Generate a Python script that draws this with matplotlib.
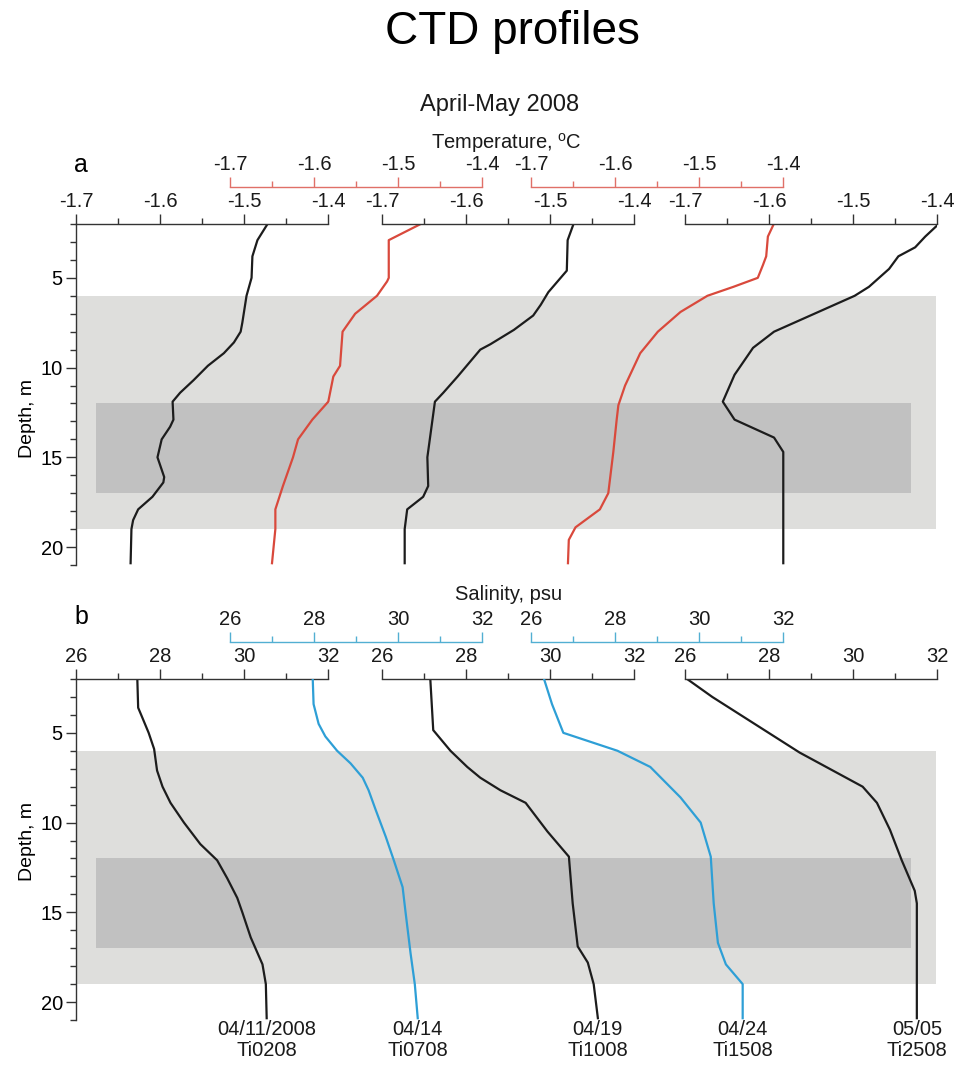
import matplotlib
matplotlib.use("Agg")
import matplotlib.pyplot as plt
import matplotlib.transforms as mtransforms
from matplotlib.ticker import FixedLocator, MultipleLocator, FormatStrFormatter

plt.rcParams['font.family'] = ['Liberation Sans', 'DejaVu Sans']
plt.rcParams['axes.unicode_minus'] = False
plt.rcParams['mathtext.fontset'] = 'custom'
plt.rcParams['mathtext.rm'] = 'Liberation Sans'

stations = ["Ti0208", "Ti0708", "Ti1008", "Ti1508", "Ti2508"]
dates = ["04/11/2008", "04/14", "04/19", "04/24", "05/05"]

temp_ticks = [-1.7, -1.6, -1.5, -1.4]
temp_minor = [-1.65, -1.55, -1.45]
sal_ticks = [26, 28, 30, 32]
sal_minor = [27, 29, 31]
depth_ticks = [5, 10, 15, 20]

# temperature profiles: depth (m) and temperature (deg C)
ti0208_t_z = [2.0, 2.9, 3.8, 5.0, 6.0, 7.5, 8.0, 8.6, 9.2, 9.9, 10.7, 11.4, 11.9,
              12.9, 13.3, 14.0, 15.0, 16.1, 16.4, 17.2, 17.9, 18.5, 19.0, 20.9]
ti0208_t = [-1.472, -1.484, -1.490, -1.491, -1.497, -1.502, -1.504, -1.512, -1.524,
            -1.543, -1.560, -1.576, -1.585, -1.584, -1.588, -1.598, -1.603, -1.595,
            -1.596, -1.609, -1.626, -1.632, -1.634, -1.635]

ti0708_t_z = [2.0, 2.9, 5.0, 5.2, 6.0, 7.0, 8.0, 9.9, 10.5, 11.9, 12.9, 14.0, 15.0,
              16.6, 17.9, 19.0, 20.9]
ti0708_t = [-1.473, -1.511, -1.511, -1.513, -1.525, -1.551, -1.566, -1.569, -1.577,
            -1.583, -1.602, -1.619, -1.625, -1.637, -1.646, -1.646, -1.650]

ti1008_t_z = [2.0, 2.9, 4.6, 5.8, 6.5, 7.1, 7.9, 8.7, 9.0, 10.5, 11.4, 11.9, 15.0,
              16.6, 17.2, 17.9, 19.0, 20.9]
ti1008_t = [-1.472, -1.479, -1.480, -1.502, -1.511, -1.520, -1.543, -1.571, -1.583,
            -1.610, -1.627, -1.637, -1.646, -1.645, -1.651, -1.670, -1.673, -1.673]

ti1508_t_z = [2.0, 2.7, 3.8, 4.3, 5.0, 5.5, 6.0, 6.9, 8.0, 9.2, 10.1, 11.0, 12.1,
              12.9, 14.7, 17.0, 17.9, 18.9, 19.6, 20.9]
ti1508_t = [-1.411, -1.418, -1.420, -1.424, -1.430, -1.459, -1.490, -1.522, -1.549,
            -1.570, -1.579, -1.588, -1.596, -1.598, -1.602, -1.608, -1.618, -1.647,
            -1.655, -1.656]

ti2508_t_z = [2.0, 2.7, 3.3, 3.8, 4.5, 5.5, 6.0, 8.0, 8.9, 10.4, 11.9, 12.9, 13.9,
              14.7, 16.6, 20.9]
ti2508_t = [-1.398, -1.414, -1.426, -1.446, -1.457, -1.481, -1.498, -1.594, -1.619,
            -1.641, -1.655, -1.641, -1.594, -1.583, -1.583, -1.583]

# salinity profiles: depth (m) and salinity (psu)
ti0208_s_z = [2.0, 3.6, 4.1, 5.0, 5.9, 7.1, 8.0, 8.9, 10.0, 11.2, 12.1, 13.1, 14.2,
              15.0, 16.4, 17.9, 19.0, 20.9]
ti0208_s = [27.46, 27.48, 27.57, 27.73, 27.86, 27.93, 28.06, 28.25, 28.57, 28.96,
            29.36, 29.60, 29.84, 29.96, 30.16, 30.44, 30.52, 30.54]

ti0708_s_z = [2.0, 3.4, 4.5, 5.2, 6.0, 6.7, 7.5, 8.2, 9.3, 10.8, 12.1, 13.6, 15.0,
              17.3, 19.0, 20.9]
ti0708_s = [27.97, 27.99, 28.11, 28.27, 28.55, 28.87, 29.16, 29.30, 29.47, 29.71,
            29.90, 30.11, 30.18, 30.30, 30.40, 30.47]

ti1008_s_z = [2.0, 4.85, 6.0, 6.9, 7.5, 8.2, 8.9, 10.5, 11.9, 14.5, 16.9, 17.8, 19.0, 20.9]
ti1008_s = [27.15, 27.22, 27.63, 28.03, 28.34, 28.82, 29.42, 29.94, 30.45, 30.54,
            30.66, 30.90, 31.04, 31.14]

ti1508_s_z = [2.0, 3.4, 5.0, 6.0, 6.9, 8.6, 10.0, 11.9, 14.5, 16.7, 17.9, 19.0, 20.9]
ti1508_s = [26.31, 26.50, 26.77, 28.06, 28.84, 29.56, 30.04, 30.28, 30.35, 30.45,
            30.64, 31.04, 31.04]

ti2508_s_z = [2.0, 3.0, 6.1, 8.0, 8.9, 10.4, 12.1, 13.8, 14.5, 20.9]
ti2508_s = [26.05, 26.65, 28.73, 30.23, 30.57, 30.88, 31.16, 31.47, 31.52, 31.52]

# layers shaded behind the profiles (depth range, m)
outer_layer = (6, 19)
inner_layer = (12, 17)

W, H = 960, 1067
LEFTS = [76, 230, 382, 531, 685]
AX_W = 252
LIGHT = "#dededc"
DARK = "#c1c1c1"
RED = "#d9493c"
RED_AX = "#e07068"
BLUE = "#2e9fd6"
BLUE_AX = "#52afd2"
INK = "#1c1c1c"


def box(x0, y0, x1, y1):
    # pixel box (from top-left) -> figure fraction rect
    return [x0 / W, 1 - y1 / H, (x1 - x0) / W, (y1 - y0) / H]


def draw_panel(fig, top, bottom, depths, values, ticks, minor, fmt, accent, accent_ax,
               ylabel_y):
    bg = fig.add_axes(box(LEFTS[0], top, 936, bottom))
    bg.set_ylim(21, 2)
    bg.set_xlim(0, 1)
    bg.axhspan(*outer_layer, color=LIGHT, lw=0)
    bg.axhspan(*inner_layer, xmin=20 / 860, xmax=835 / 860, color=DARK, lw=0)
    bg.axis('off')

    axes = []
    for k, (z, v) in enumerate(zip(depths, values)):
        left = LEFTS[k]
        ax = fig.add_axes(box(left, top, left + AX_W, bottom), sharey=bg)
        ax.patch.set_visible(False)
        upper = k % 2 == 1
        line_col = accent if upper else INK
        ax_col = accent_ax if upper else "#333333"
        ax.plot(v, z, color=line_col, lw=1.6, solid_joinstyle='round')
        ax.set_xlim(ticks[0], ticks[-1])
        ax.set_ylim(21, 2)

        for side in ['bottom', 'right', 'left']:
            ax.spines[side].set_visible(False)
        ax.spines['top'].set_color(ax_col)
        ax.spines['top'].set_linewidth(1.0)
        if upper:
            ax.spines['top'].set_position(('outward', 26.6))

        ax.xaxis.set_ticks_position('top')
        ax.xaxis.set_major_locator(FixedLocator(ticks))
        ax.xaxis.set_minor_locator(FixedLocator(minor))
        ax.xaxis.set_major_formatter(FormatStrFormatter(fmt))
        ax.tick_params(axis='x', which='major', length=7.5, width=1.0, color=ax_col,
                       pad=2, labelsize=14.5, labelcolor='#1a1a1a')
        ax.tick_params(axis='x', which='minor', length=4, width=1.0, color=ax_col)

        if k == 0:
            ax.spines['left'].set_visible(True)
            ax.spines['left'].set_color("#333333")
            ax.spines['left'].set_linewidth(1.0)
            ax.yaxis.set_major_locator(FixedLocator(depth_ticks))
            ax.yaxis.set_minor_locator(MultipleLocator(1))
            ax.tick_params(axis='y', which='major', length=7.5, width=1.0,
                           color="#333333", pad=2, labelsize=14.5)
            ax.tick_params(axis='y', which='minor', length=4, width=1.0,
                           color="#333333")
            ax.set_ylabel("Depth, m", fontsize=14)
            ax.yaxis.set_label_coords((36 - LEFTS[0]) / AX_W, ylabel_y)
        else:
            ax.tick_params(axis='y', which='both', left=False, labelleft=False)
        axes.append(ax)
    return axes


fig = plt.figure(figsize=(W / 100, H / 100), dpi=100)

temp_z = [ti0208_t_z, ti0708_t_z, ti1008_t_z, ti1508_t_z, ti2508_t_z]
temp_v = [ti0208_t, ti0708_t, ti1008_t, ti1508_t, ti2508_t]
sal_z = [ti0208_s_z, ti0708_s_z, ti1008_s_z, ti1508_s_z, ti2508_s_z]
sal_v = [ti0208_s, ti0708_s, ti1008_s, ti1508_s, ti2508_s]

draw_panel(fig, 224, 565, temp_z, temp_v, temp_ticks, temp_minor, '%.1f',
           RED, RED_AX, 0.431)
sal_axes = draw_panel(fig, 679, 1020, sal_z, sal_v, sal_ticks, sal_minor, '%d',
                      BLUE, BLUE_AX, 0.522)

# station labels under the bottom of each salinity cast
for ax, s, date, name in zip(sal_axes, sal_v, dates, stations):
    trans = mtransforms.blended_transform_factory(ax.transData, fig.transFigure)
    ax.text(s[-1], 1 - 1020 / H, f"{date}\n{name}", transform=trans, ha='center',
            va='top', fontsize=14.5, linespacing=1.15, color='#1a1a1a')

fig.text(512 / W, 1 - 32 / H, "CTD profiles", fontsize=33, ha='center', va='center')
fig.text(500 / W, 1 - 105 / H, "April-May 2008", fontsize=17, ha='center',
         va='center', color='#1a1a1a')
fig.text(506 / W, 1 - 143 / H, r"Temperature, $^{\mathrm{o}}$C", fontsize=14.5,
         ha='center', va='center', color='#1a1a1a')
fig.text(509 / W, 1 - 594 / H, "Salinity, psu", fontsize=14.5, ha='center',
         va='center', color='#1a1a1a')
fig.text(81 / W, 1 - 165 / H, "a", fontsize=18, ha='center', va='center')
fig.text(81 / W, 1 - 617 / H, "b", fontsize=18, ha='center', va='center')

fig.savefig("out.png", dpi=100)
